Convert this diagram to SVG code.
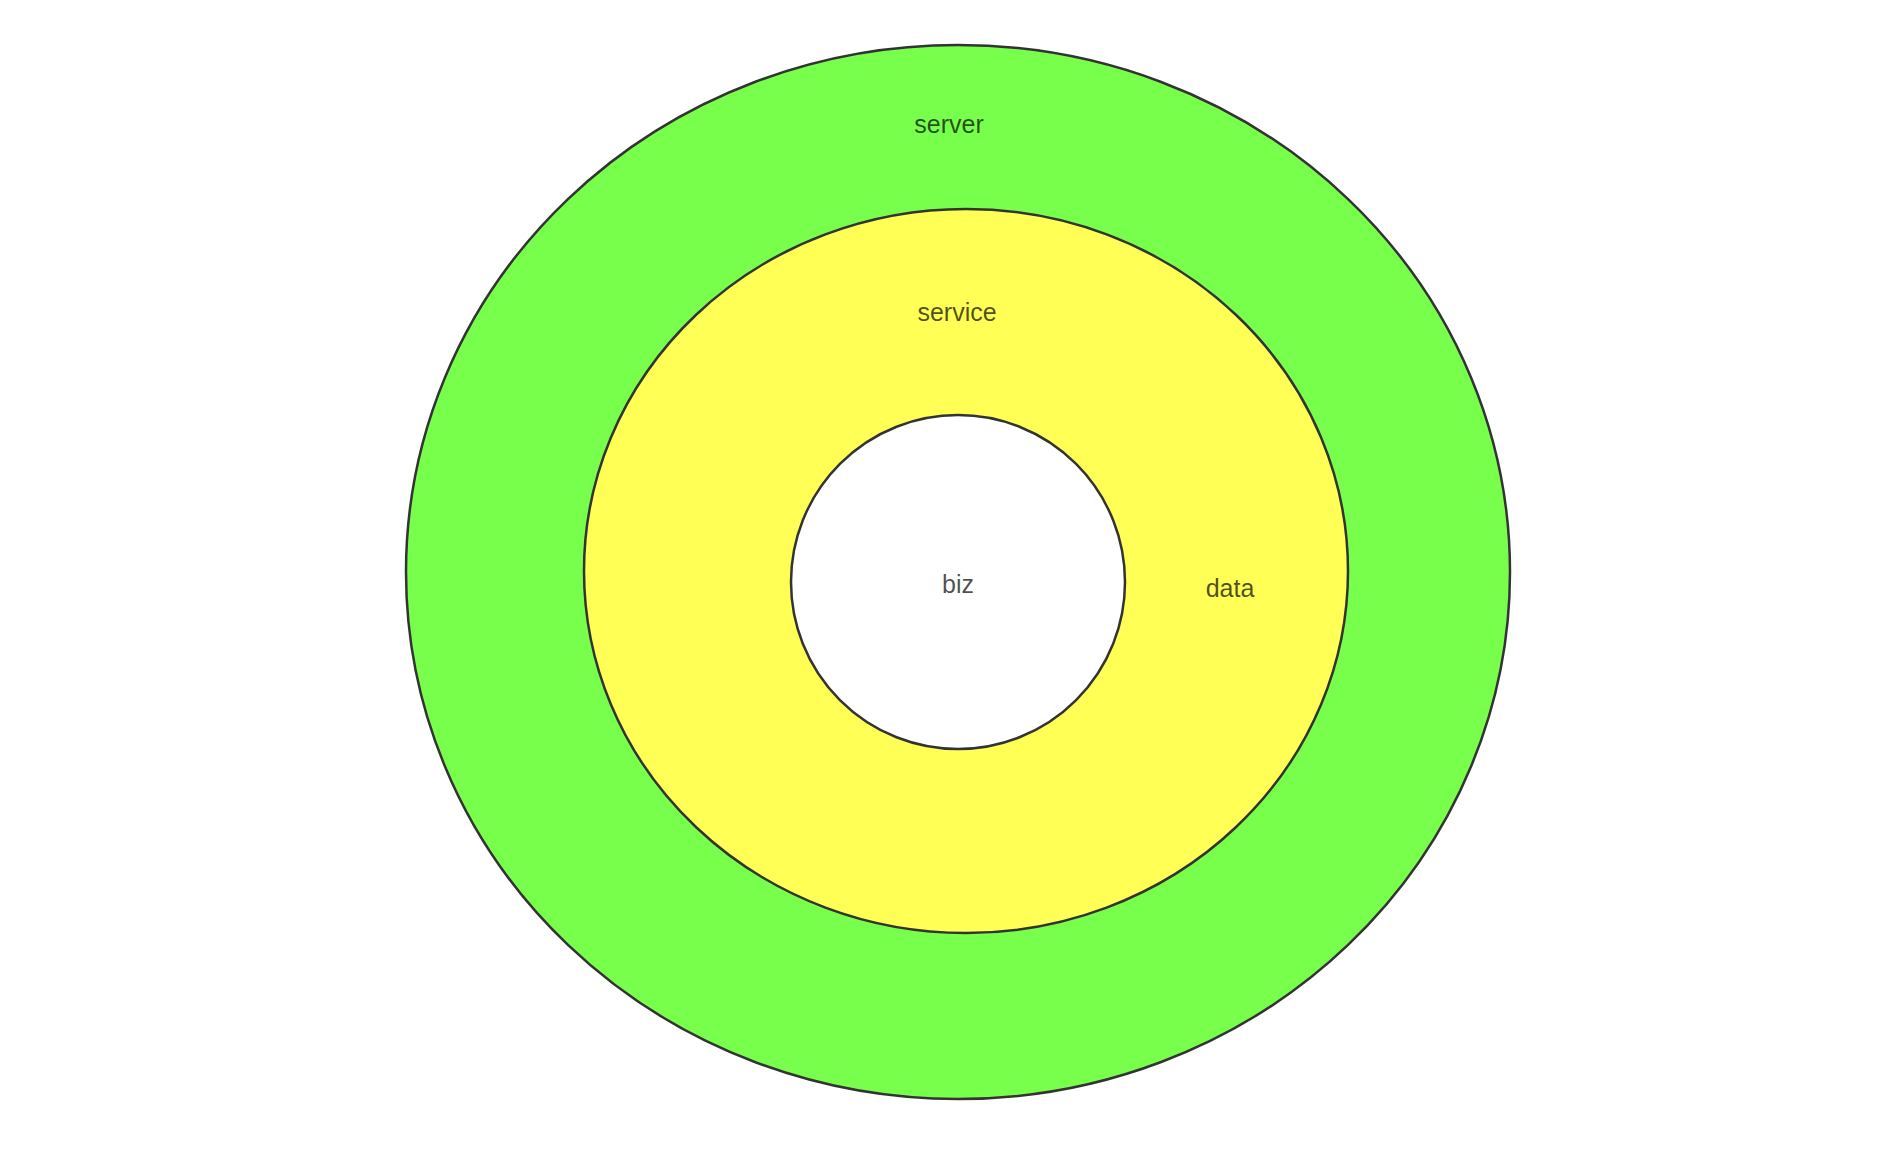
<svg xmlns="http://www.w3.org/2000/svg" width="1894" height="1172" viewBox="0 0 1894 1172">
<style>
.ring{stroke:#333333;stroke-width:2.5}
.lbl{font-family:"Liberation Sans",Arial,sans-serif;font-size:25px;text-anchor:middle;fill:#000000;fill-opacity:0.7}
</style>
<rect width="1894" height="1172" fill="#ffffff"/>
<g id="server">
<ellipse class="ring" cx="958" cy="572" rx="552" ry="527" fill="#77FF4C"/>
<text class="lbl" x="949" y="133">server</text>
</g>
<g id="service">
<ellipse class="ring" cx="966" cy="571" rx="382" ry="362" fill="#FFFF55"/>
<text class="lbl" x="957" y="321">service</text>
<text class="lbl" x="1230" y="597">data</text>
</g>
<g id="biz">
<ellipse class="ring" cx="958" cy="582" rx="167" ry="167" fill="#ffffff"/>
<text class="lbl" x="958" y="593">biz</text>
</g>
<g id="connectors"/>
</svg>
